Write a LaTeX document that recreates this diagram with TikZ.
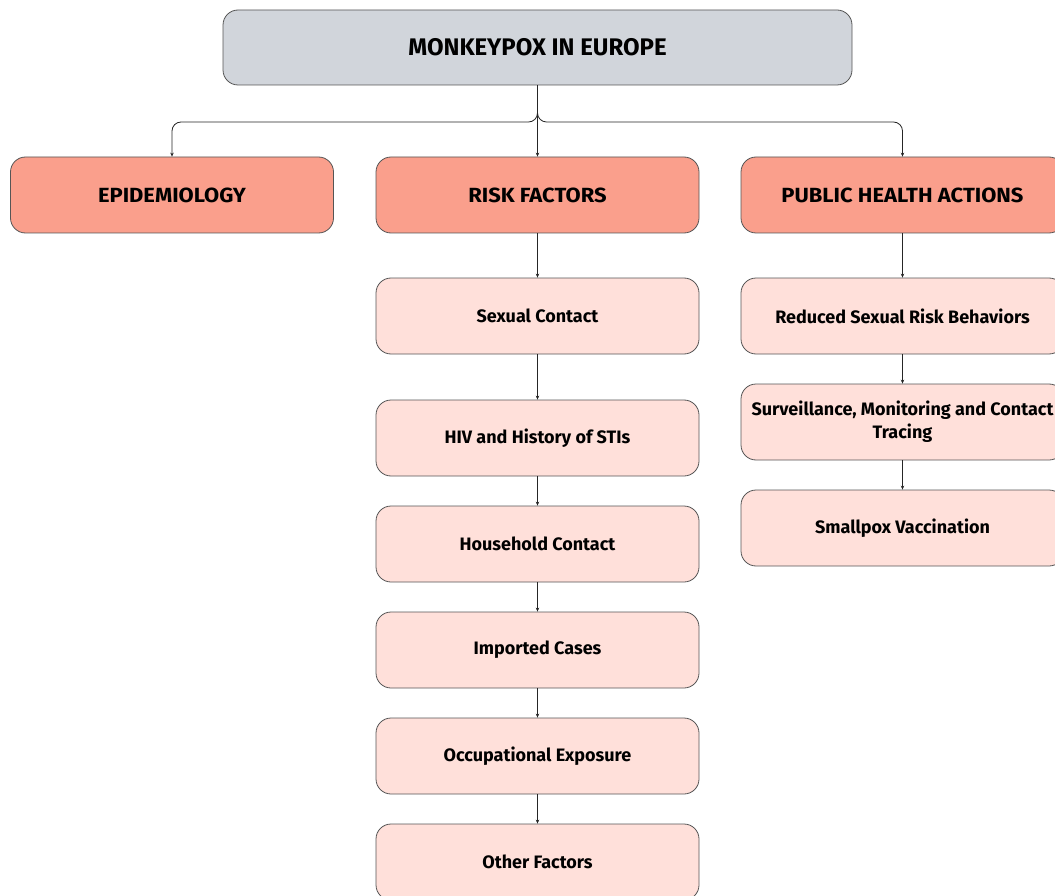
\documentclass[tikz,border=0pt]{standalone}
\usepackage{fontspec}
\setmainfont{Fira Sans}
\newfontfamily\headfont[FakeStretch=1.07]{Fira Sans}
\usetikzlibrary{arrows.meta}
\definecolor{topfill}{HTML}{D1D5DB}
\definecolor{midfill}{HTML}{FA9F8C}
\definecolor{lowfill}{HTML}{FFE0DA}
\definecolor{edge}{HTML}{555555}
\tikzset{
  box/.style={draw=edge, line width=0.8pt, rounded corners=15pt, minimum width=323pt, minimum height=76pt, align=center, inner sep=0pt, font=\fontsize{18}{23}\selectfont\bfseries},
  topbox/.style={box, fill=topfill, minimum width=629pt, minimum height=75pt, font=\fontsize{24}{28}\selectfont\bfseries},
  midbox/.style={box, fill=midfill, font=\headfont\fontsize{20.5}{24}\selectfont\bfseries},
  lowbox/.style={box, fill=lowfill},
  conn/.style={draw=black!85, line width=0.8pt, -{Stealth[length=4pt,width=3.5pt]}},
}
\begin{document}
\begin{tikzpicture}[x=1pt,y=-1pt]
\useasboundingbox (0,0) rectangle (1055,896);
\node[topbox] (top) at (537.5,47.5) {MONKEYPOX IN EUROPE};
\node[midbox] (epi) at (172,195) {EPIDEMIOLOGY};
\node[midbox] (risk) at (537.5,195) {RISK FACTORS};
\node[midbox] (pub) at (902.5,195) {PUBLIC HEALTH ACTIONS};
\node[lowbox] (r1) at (537.5,316) {Sexual Contact};
\node[lowbox] (r2) at (537.5,438) {HIV and History of STIs};
\node[lowbox] (r3) at (537.5,544) {Household Contact};
\node[lowbox] (r4) at (537.5,650) {Imported Cases};
\node[lowbox] (r5) at (537.5,756) {Occupational Exposure};
\node[lowbox] (r6) at (537.5,862) {Other Factors};
\node[lowbox] (p1) at (902.5,316) {Reduced Sexual Risk Behaviors};
\node[lowbox] (p2) at (902.5,422) {Surveillance, Monitoring and Contact\\Tracing};
\node[lowbox] (p3) at (902.5,528) {Smallpox Vaccination};
\coordinate (j) at (537.5,122);
\draw[conn, rounded corners=9pt] (top.south) -- (j) -| (epi.north);
\draw[conn, rounded corners=9pt] (top.south) -- (j) -| (pub.north);
\draw[conn] (top.south) -- (risk.north);
\draw[conn] (risk) -- (r1);
\draw[conn] (r1) -- (r2);
\draw[conn] (r2) -- (r3);
\draw[conn] (r3) -- (r4);
\draw[conn] (r4) -- (r5);
\draw[conn] (r5) -- (r6);
\draw[conn] (pub) -- (p1);
\draw[conn] (p1) -- (p2);
\draw[conn] (p2) -- (p3);
\end{tikzpicture}
\end{document}
